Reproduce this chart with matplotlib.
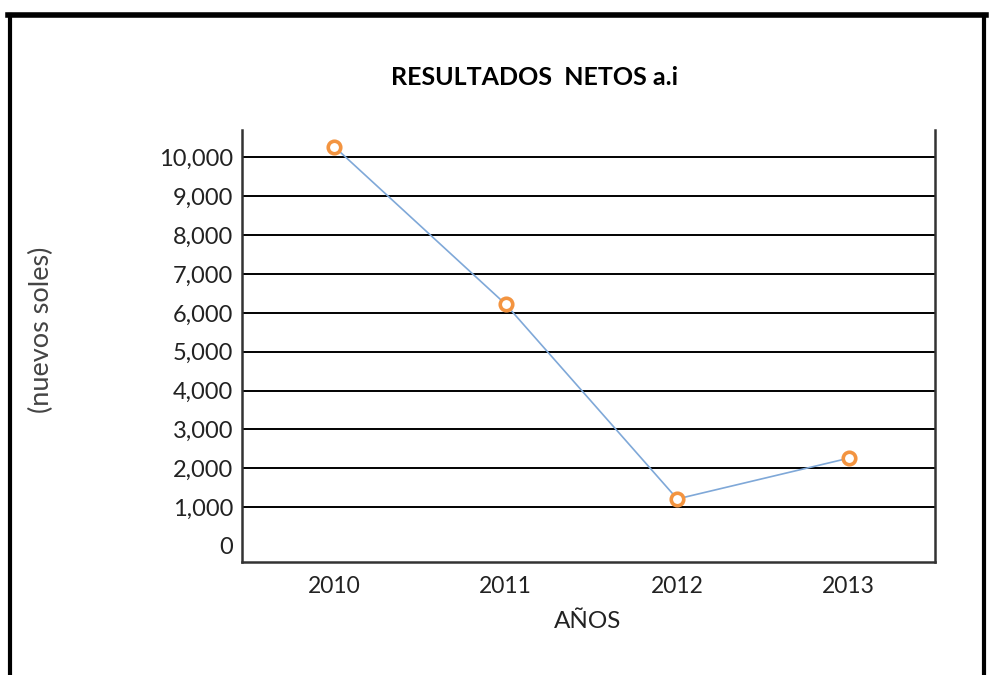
import matplotlib
matplotlib.use("Agg")
import matplotlib.pyplot as plt
from matplotlib.lines import Line2D

years = ["2010", "2011", "2012", "2013"]
values = [10280, 6220, 1210, 2260]
yticks = [0, 1000, 2000, 3000, 4000, 5000, 6000, 7000, 8000, 9000, 10000]
ytick_labels = ["0", "1,000", "2,000", "3,000", "4,000", "5,000", "6,000",
                "7,000", "8,000", "9,000", "10,000"]
title = "RESULTADOS  NETOS a.i"
xlabel = "AÑOS"
ylabel = "(nuevos soles)"

plt.rcParams['font.family'] = ['Lato', 'DejaVu Sans']

fig = plt.figure(figsize=(9.9, 6.75), dpi=100)
ax = fig.add_axes([0.244, 0.167, 0.700, 0.640])

x = list(range(len(years)))
ax.plot(x, values, color="#7fa8d8", lw=1.2, zorder=3)
ax.plot(x, values, ls="none", marker="o", ms=9, mfc="white", mec="#f39440",
        mew=2.6, zorder=4)

ax.set_xlim(-0.54, 3.5)
ax.set_ylim(-420, 10700)
ax.set_xticks(x)
ax.set_xticklabels(years, fontsize=16.5, color="#222222")
ax.set_yticks(yticks)
ax.set_yticklabels(ytick_labels, fontsize=17, color="#222222")
ax.tick_params(axis="both", length=0, pad=6)
ax.tick_params(axis="x", pad=10)

for v in yticks[1:]:
    ax.axhline(v, color="black", lw=1.4, zorder=1)

for s in ["left", "right", "bottom"]:
    ax.spines[s].set_color("#333333")
    ax.spines[s].set_linewidth(1.8)
ax.spines["top"].set_visible(False)

ax.set_xlabel(xlabel, fontsize=17.5, color="#222222", labelpad=10)
fig.text(0.042, 0.512, ylabel, rotation=90, fontsize=19.5, color="#444444",
         ha="center", va="center")
fig.text(0.540, 0.885, title, fontsize=18, fontweight="bold", color="black",
         ha="center", va="center")

# outer frame
fig.add_artist(Line2D([0.008, 0.996], [0.978, 0.978], color="black", lw=4,
                      transform=fig.transFigure))
fig.add_artist(Line2D([0.010, 0.010], [0.0, 0.978], color="black", lw=3,
                      transform=fig.transFigure))
fig.add_artist(Line2D([0.994, 0.994], [0.0, 0.978], color="black", lw=3,
                      transform=fig.transFigure))

fig.savefig("out.png", dpi=100)
